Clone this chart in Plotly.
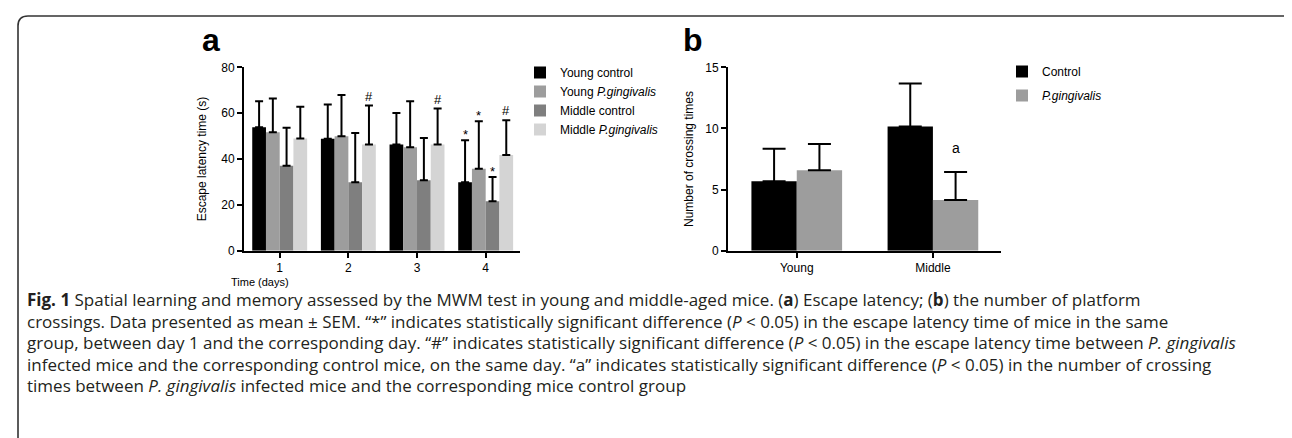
import plotly.graph_objects as go

# ---------------- data ----------------
days = [1, 2, 3, 4]
day_labels = ["1", "2", "3", "4"]
series_a_names = ["Young control", "Young <i>P.gingivalis</i>",
                  "Middle control", "Middle <i>P.gingivalis</i>"]
young_control = [53.9, 48.8, 46.3, 29.9]
young_control_sem = [11.3, 15.0, 13.8, 18.3]
young_pg = [51.7, 49.9, 45.1, 35.8]
young_pg_sem = [14.7, 18.0, 20.1, 20.7]
middle_control = [37.1, 29.9, 30.7, 21.6]
middle_control_sem = [16.5, 21.4, 18.5, 10.6]
middle_pg = [48.9, 46.3, 46.3, 41.7]
middle_pg_sem = [13.9, 17.0, 15.7, 15.2]
young_control_marks = ["", "", "", "*"]
young_pg_marks = ["", "", "", "*"]
middle_control_marks = ["", "", "", "*"]
middle_pg_marks = ["", "#", "#", "#"]
a_yticks = [0, 20, 40, 60, 80]

groups_b = ["Young", "Middle"]
series_b_names = ["Control", "<i>P.gingivalis</i>"]
control_b = [5.67, 10.16]
control_b_sem = [2.66, 3.51]
pg_b = [6.59, 4.14]
pg_b_sem = [2.13, 2.29]
control_b_marks = ["", ""]
pg_b_marks = ["", "a"]
b_yticks = [0, 5, 10, 15]

caption_lines = [
    "<b>Fig. 1</b> Spatial learning and memory assessed by the MWM test in young and middle-aged mice. (<b>a</b>) Escape latency; (<b>b</b>) the number of platform",
    "crossings. Data presented as mean ± SEM. “*” indicates statistically significant difference (<i>P</i> &lt; 0.05) in the escape latency time of mice in the same",
    "group, between day 1 and the corresponding day. “#” indicates statistically significant difference (<i>P</i> &lt; 0.05) in the escape latency time between <i>P. gingivalis</i>",
    "infected mice and the corresponding control mice, on the same day. “a” indicates statistically significant difference (<i>P</i> &lt; 0.05) in the number of crossing",
    "times between <i>P. gingivalis</i> infected mice and the corresponding mice control group",
]

# ---------------- styling ----------------
W, H = 1292, 438
FONT = "Liberation Sans, Arial, sans-serif"
CAP_FONT = "Open Sans, sans-serif"
colors_a = ["#000000", "#9d9d9d", "#7f7f7f", "#d4d4d4"]
colors_b = ["#000000", "#9d9d9d"]
bar_w_a = 0.2
bar_w_b = 0.333
mark_shift = {"*": -4, "#": 0, "a": 14}


def px_x(p):
    return p / W


def px_y(p):
    return 1 - p / H


fig = go.Figure()

series_a = [
    (young_control, young_control_sem, young_control_marks),
    (young_pg, young_pg_sem, young_pg_marks),
    (middle_control, middle_control_sem, middle_control_marks),
    (middle_pg, middle_pg_sem, middle_pg_marks),
]
n_a = len(series_a)
annotations = []
for i, (vals, sem, marks) in enumerate(series_a):
    off = -bar_w_a * n_a / 2 + i * bar_w_a
    fig.add_trace(go.Bar(
        x=days, y=vals, name=series_a_names[i], width=bar_w_a, offset=off,
        marker=dict(color=colors_a[i], line=dict(width=0)),
        error_y=dict(type="data", array=sem, arrayminus=[0] * len(sem), symmetric=False,
                     color="#000000", thickness=2, width=4),
        xaxis="x", yaxis="y", legend="legend",
    ))
    for d, v, s, m in zip(days, vals, sem, marks):
        if m:
            annotations.append(dict(
                x=d + off + bar_w_a / 2, y=v + s, xref="x", yref="y", text=m,
                showarrow=False, yanchor="bottom", yshift=mark_shift[m],
                font=dict(family=FONT, size=13, color="#000")))

series_b = [(control_b, control_b_sem, control_b_marks), (pg_b, pg_b_sem, pg_b_marks)]
n_b = len(series_b)
for i, (vals, sem, marks) in enumerate(series_b):
    off = -bar_w_b * n_b / 2 + i * bar_w_b
    fig.add_trace(go.Bar(
        x=list(range(len(groups_b))), y=vals, name=series_b_names[i], width=bar_w_b, offset=off,
        marker=dict(color=colors_b[i], line=dict(width=0)),
        error_y=dict(type="data", array=sem, arrayminus=[0] * len(sem), symmetric=False,
                     color="#000000", thickness=2, width=11.5),
        xaxis="x2", yaxis="y2", legend="legend2", legendgroup="b%d" % i,
    ))
    for gi, (v, s, m) in enumerate(zip(vals, sem, marks)):
        if m:
            annotations.append(dict(
                x=gi + off + bar_w_b / 2, y=v + s, xref="x2", yref="y2", text=m,
                showarrow=False, yanchor="bottom", yshift=mark_shift[m],
                font=dict(family=FONT, size=14, color="#000")))

axis_common = dict(showline=True, linecolor="#000", linewidth=2, ticks="outside",
                   ticklen=5, tickwidth=2, tickcolor="#000", showgrid=False, zeroline=False,
                   automargin=False, tickfont=dict(family=FONT, size=12, color="#000"))

fig.update_layout(
    width=W, height=H, margin=dict(l=0, r=0, t=0, b=0),
    paper_bgcolor="white", plot_bgcolor="white",
    barmode="overlay",
    font=dict(family=FONT, color="#000"),
    xaxis=dict(domain=[px_x(236), px_x(512)], range=[0.48, 4.5], tickvals=days, ticktext=day_labels,
               anchor="y", **axis_common),
    yaxis=dict(domain=[px_y(242.7), px_y(59.3)], range=[0, 80], tickvals=a_yticks, anchor="x",
               title=dict(text="Escape latency time (s)", standoff=12, font=dict(family=FONT, size=12)),
               **axis_common),
    xaxis2=dict(domain=[px_x(720), px_x(993)], range=[-0.505, 1.5], tickvals=list(range(len(groups_b))),
                ticktext=groups_b, anchor="y2", **axis_common),
    yaxis2=dict(domain=[px_y(242.7), px_y(59.3)], range=[0, 15], tickvals=b_yticks, anchor="x2",
                title=dict(text="Number of crossing times", standoff=9, font=dict(family=FONT, size=12)),
                **axis_common),
    legend=dict(x=px_x(512), y=px_y(50), xanchor="left", yanchor="top", bgcolor="rgba(0,0,0,0)",
                font=dict(family=FONT, size=12, color="#000"), tracegroupgap=0, itemclick=False),
    legend2=dict(x=px_x(994), y=px_y(49), xanchor="left", yanchor="top", bgcolor="rgba(0,0,0,0)",
                 font=dict(family=FONT, size=12, color="#000"), tracegroupgap=5, traceorder="grouped"),
)

# x-axis title of panel a
annotations.append(dict(x=px_x(252), y=px_y(274), xref="paper", yref="paper", text="Time (days)",
                        showarrow=False, font=dict(family=FONT, size=11, color="#000"),
                        xanchor="center", yanchor="middle"))

# panel letters
annotations.append(dict(x=px_x(203), y=px_y(32), xref="paper", yref="paper", text="<b>a</b>",
                        showarrow=False, font=dict(family=FONT, size=32, color="#000"),
                        xanchor="center", yanchor="middle"))
annotations.append(dict(x=px_x(685), y=px_y(32), xref="paper", yref="paper", text="<b>b</b>",
                        showarrow=False, font=dict(family=FONT, size=32, color="#000"),
                        xanchor="center", yanchor="middle"))

cap_y = [291, 313, 334, 356, 377]
for t, yy in zip(caption_lines, cap_y):
    annotations.append(dict(x=px_x(17), y=px_y(yy), xref="paper", yref="paper", text=t,
                            showarrow=False, xanchor="left", yanchor="middle", align="left",
                            font=dict(family=CAP_FONT, size=17, color="#231f20")))

fig.update_layout(annotations=annotations)

# frame with rounded top corners (pixel -> paper)
pts = "M {a},{b} L {a},{c} Q {a},{d} {e},{d} L {f},{d} Q {g},{d} {g},{c} L {g},{b}".format(
    a=px_x(10), b=px_y(445), c=px_y(18), d=px_y(8), e=px_x(20), f=px_x(1280), g=px_x(1290))
fig.add_shape(type="path", path=pts, xref="paper", yref="paper",
              line=dict(color="#333", width=1.6))

fig.write_html("out.html")
